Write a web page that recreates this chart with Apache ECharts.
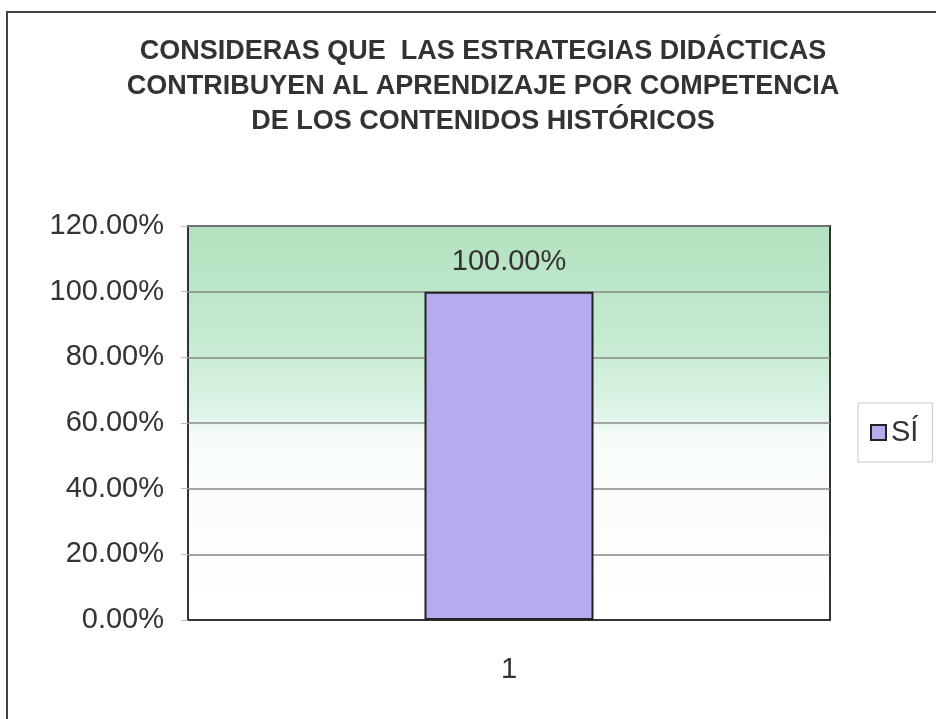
<!DOCTYPE html>
<html>
<head>
<meta charset="utf-8">
<script src="https://cdn.jsdelivr.net/npm/echarts@6/dist/echarts.min.js"></script>
<style>
  html, body { margin: 0; padding: 0; background: #fff; }
  #chart { width: 936px; height: 719px; }
</style>
</head>
<body>
<div id="chart"></div>
<script>
  // datos
  const categories = ['1'];
  const seriesName = 'SÍ';
  const values = [1.0];
  const titleText = 'CONSIDERAS QUE  LAS ESTRATEGIAS DIDÁCTICAS\nCONTRIBUYEN AL APRENDIZAJE POR COMPETENCIA\nDE LOS CONTENIDOS HISTÓRICOS';

  const pct = v => (v * 100).toFixed(2) + '%';

  let chart = echarts.init(document.getElementById('chart'));

  let option = {
    backgroundColor: '#fff',
    textStyle: { fontFamily: '"Liberation Sans", Arial, sans-serif' },
    title: {
      text: titleText,
      left: 483,
      top: 34,
      textAlign: 'center',
      padding: 0,
      textStyle: {
        fontSize: 27,
        fontWeight: 'bold',
        color: '#333',
        lineHeight: 35
      }
    },
    graphic: [{
      type: 'rect',
      shape: { x: 7, y: 12, width: 1000, height: 800 },
      style: { fill: 'none', stroke: '#444', lineWidth: 2 },
      silent: true
    }],
    legend: {
      left: 858,
      top: 403,
      orient: 'vertical',
      icon: 'rect',
      itemWidth: 15,
      itemHeight: 15,
      itemGap: 6,
      padding: [15, 14, 15, 12],
      backgroundColor: '#fff',
      borderColor: '#c8c8c8',
      borderWidth: 1,
      textStyle: { fontSize: 29, color: '#333' },
      data: [seriesName]
    },
    grid: {
      left: 188,
      right: 106,
      top: 226,
      bottom: 99,
      show: true,
      borderColor: '#333',
      borderWidth: 2,
      backgroundColor: new echarts.graphic.LinearGradient(0, 0, 0, 1, [
        { offset: 0, color: '#b2e1be' },
        { offset: 0.3, color: '#c6ebd2' },
        { offset: 0.48, color: '#def4e7' },
        { offset: 0.53, color: '#f7fcf9' },
        { offset: 1, color: '#ffffff' }
      ])
    },
    xAxis: {
      type: 'category',
      data: categories,
      axisLine: { show: true, lineStyle: { color: '#333', width: 2 } },
      axisTick: { show: false },
      axisLabel: { fontSize: 29, color: '#333', margin: 35 }
    },
    yAxis: {
      type: 'value',
      min: 0,
      max: 1.2,
      interval: 0.2,
      axisLine: { show: false },
      axisTick: { show: true, length: 7, lineStyle: { color: '#bbb' } },
      axisLabel: {
        fontSize: 29,
        color: '#333',
        margin: 24,
        formatter: pct
      },
      splitLine: { lineStyle: { color: '#888', width: 1.5 } }
    },
    series: [{
      name: seriesName,
      type: 'bar',
      data: values,
      barWidth: 169,
      itemStyle: {
        color: '#b4acec',
        borderColor: '#222',
        borderWidth: 2
      },
      label: {
        show: true,
        position: 'top',
        distance: 15,
        fontSize: 29,
        color: '#333',
        formatter: p => pct(p.value)
      }
    }]
  };

  chart.setOption(option);
</script>
</body>
</html>
